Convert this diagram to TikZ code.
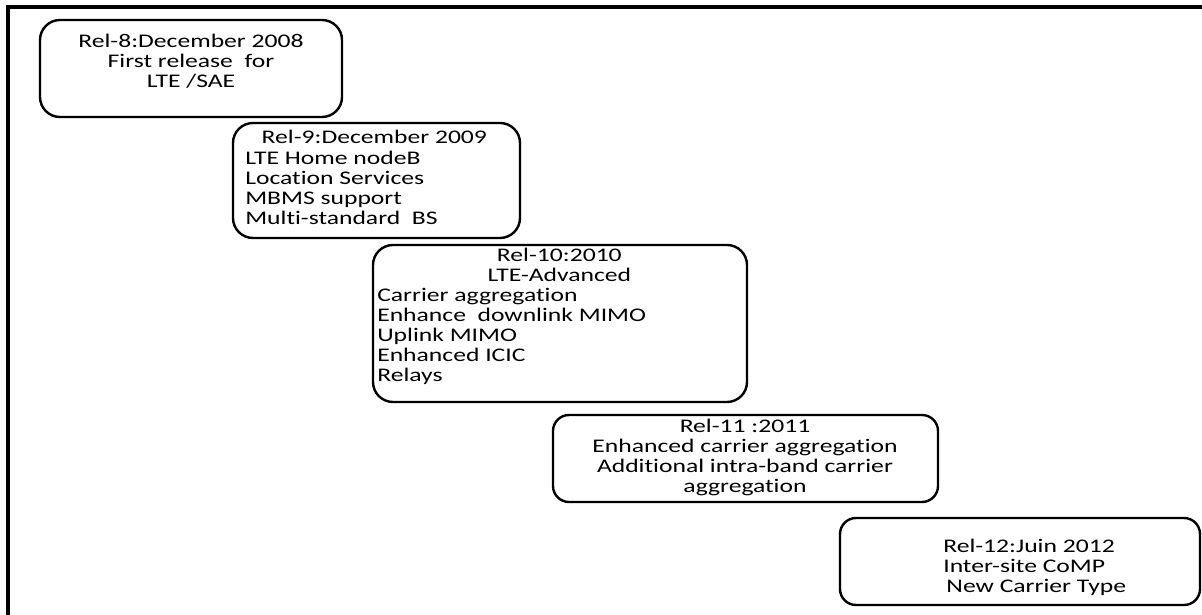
\documentclass[tikz,border=0pt]{standalone}
\usepackage{fontspec}
\setmainfont{Carlito}[FakeStretch=1.33, Ligatures=NoCommon]
\usepackage{tikz}

\tikzset{
	relbox/.style = {line width=1.7pt, rounded corners=0.5cm},
	reltext/.style = {inner sep=0pt, font=\fontsize{13.7pt}{14.3pt}\selectfont},
	frameline/.style = {line width=2.6pt}
}

\begin{document}
\begin{tikzpicture}[x=0.025cm, y=-0.025cm]
			\useasboundingbox (0,0) rectangle (1202,615);
			\draw[frameline] (1202,7) -- (8,7) -- (8,615);

			\draw[relbox] (40,20) rectangle (342,117);
			\draw (191,61.5) node[reltext, align=center] (rel8) {Rel-8:December 2008\\First release\ \ for\\LTE /SAE};

			\draw[relbox] (233,123) rectangle (520,238);
			\draw (245,177.5) node[reltext, align=left, anchor=west] (rel9) {\makebox[6.45cm][c]{Rel-9:December 2009}\\LTE Home nodeB\\Location Services\\MBMS support\\Multi-standard\ \ BS};

			\draw[relbox] (373,245) rectangle (747,402);
			\draw (377,316.5) node[reltext, align=left, anchor=west] (rel10) {\makebox[9.1cm][c]{Rel-10:2010}\\\makebox[9.1cm][c]{LTE-Advanced}\\Carrier aggregation\\Enhance\ \ downlink MIMO\\Uplink MIMO\\Enhanced ICIC\\Relays};

			\draw[relbox, rounded corners=0.4cm] (553,415) rectangle (938,502);
			\draw (745,457.5) node[reltext, align=center] (rel11) {Rel-11 :2011\\Enhanced carrier aggregation\\Additional intra-band carrier\\aggregation};

			\draw[relbox, rounded corners=0.4cm] (840,518) rectangle (1200,605);
			\draw (943,567) node[reltext, align=left, anchor=west] (rel12) {Rel-12:Juin 2012\\Inter-site CoMP\\\hspace*{0.08cm}New Carrier Type};
\end{tikzpicture}
\end{document}
